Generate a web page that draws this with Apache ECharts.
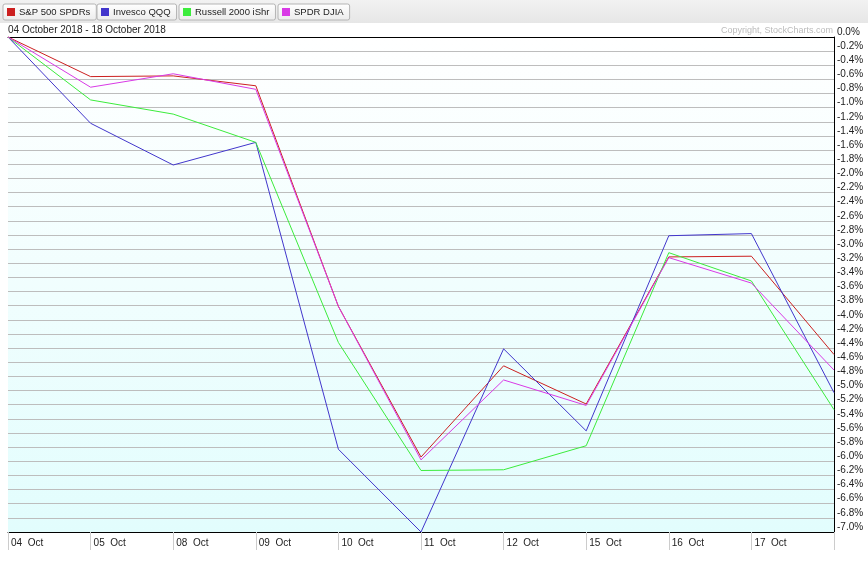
<!DOCTYPE html>
<html>
<head>
<meta charset="utf-8">
<script src="https://cdn.jsdelivr.net/npm/echarts@6/dist/echarts.min.js"></script>
<style>html,body{margin:0;padding:0;background:#fff;}#c{width:868px;height:574px;}</style>
</head>
<body>
<div id="c"></div>
<script>
const categories = ['04  Oct','05  Oct','08  Oct','09  Oct','10  Oct','11  Oct','12  Oct','15  Oct','16  Oct','17  Oct','18  Oct'];
const seriesNames = ['S&P 500 SPDRs','Invesco QQQ','Russell 2000 iShr','SPDR DJIA'];
const spy = [0, -0.56, -0.55, -0.69, -3.81, -5.94, -4.65, -5.19, -3.11, -3.10, -4.49];
const qqq = [0, -1.22, -1.81, -1.49, -5.83, -7.00, -4.41, -5.57, -2.81, -2.78, -5.03];
const iwm = [0, -0.89, -1.09, -1.49, -4.32, -6.13, -6.12, -5.78, -3.05, -3.45, -5.27];
const dia = [0, -0.71, -0.52, -0.74, -3.81, -5.98, -4.85, -5.21, -3.12, -3.48, -4.71];
const colors = ['#cc2020', '#4236cc', '#3cec3c', '#d93ae6'];
const legendLeft = [3, 97, 179, 278];

const FONT = 'Liberation Sans, Arial, sans-serif';
const chart = echarts.init(document.getElementById('c'), null, {renderer: 'canvas'});

const legends = seriesNames.map((n, i) => ({
  data: [n], left: legendLeft[i], top: 4, orient: 'horizontal',
  icon: 'rect', itemWidth: 8, itemHeight: 8, itemGap: 0,
  padding: [3, 6, 3, 4], borderColor: '#b4b4b4', borderWidth: 1, borderRadius: 2,
  backgroundColor: new echarts.graphic.LinearGradient(0, 0, 0, 1, [{offset: 0, color: '#ffffff'}, {offset: 1, color: '#ececec'}]),
  selectedMode: false,
  textStyle: {fontFamily: FONT, fontSize: 9.5, color: '#222', padding: [0, 0, 0, -1]}
}));

const dataSets = [spy, qqq, iwm, dia];

const option = {
  animation: false,
  color: colors,
  graphic: [{
    type: 'rect', z: -10, silent: true,
    shape: {x: 0, y: 0, width: 868, height: 23},
    style: {fill: new echarts.graphic.LinearGradient(0, 0, 0, 1, [{offset: 0, color: '#f2f2f2'}, {offset: 1, color: '#e6e6e6'}])}
  }],
  title: [
    {text: '04 October 2018 - 18 October 2018', left: 8, top: 25, padding: 0,
     textStyle: {fontFamily: FONT, fontSize: 10, fontWeight: 'normal', color: '#222'}},
    {text: 'Copyright, StockCharts.com', right: 35, top: 26, padding: 0,
     textStyle: {fontFamily: FONT, fontSize: 9, fontWeight: 'normal', color: '#bcbcbc'}}
  ],
  legend: legends,
  grid: {
    left: 8, right: 34, top: 37, bottom: 42, containLabel: false,
    show: true, borderWidth: 0,
    backgroundColor: new echarts.graphic.LinearGradient(0, 0, 0, 1, [{offset: 0, color: '#ffffff'}, {offset: 1, color: '#e2fdfd'}])
  },
  xAxis: [{
    type: 'category', data: categories, boundaryGap: false, position: 'bottom',
    axisLine: {show: true, onZero: false, lineStyle: {color: '#000', width: 1}},
    axisTick: {show: true, interval: 0, length: 18, lineStyle: {color: '#cccccc'}},
    axisLabel: {interval: 0, align: 'left', margin: 6, padding: [0, 0, 0, 3],
      fontFamily: FONT, fontSize: 10, color: '#222',
      formatter: (v, i) => i === categories.length - 1 ? '' : v},
    splitLine: {show: false}
  }, {
    type: 'category', data: categories, boundaryGap: false, position: 'top',
    axisLine: {show: true, onZero: false, lineStyle: {color: '#000', width: 1}},
    axisTick: {show: false}, axisLabel: {show: false}, splitLine: {show: false}
  }],
  yAxis: {
    type: 'value', position: 'right', min: -7, max: 0, interval: 0.2,
    axisLine: {show: true, onZero: false, lineStyle: {color: '#000', width: 1}},
    axisTick: {show: false},
    splitLine: {show: true, lineStyle: {color: '#bdbdbd', width: 1}},
    axisLabel: {margin: 3, verticalAlign: 'bottom', fontFamily: FONT, fontSize: 10, color: '#222',
      formatter: v => (Math.abs(v) < 1e-9 ? 0 : v).toFixed(1) + '%'}
  },
  series: seriesNames.map((n, i) => ({
    name: n, type: 'line', data: dataSets[i], xAxisIndex: 0,
    showSymbol: false, symbol: 'none', lineStyle: {width: 1, color: colors[i]},
    itemStyle: {color: colors[i]}, clip: false, z: 2 + i
  }))
};
chart.setOption(option);
</script>
</body>
</html>
